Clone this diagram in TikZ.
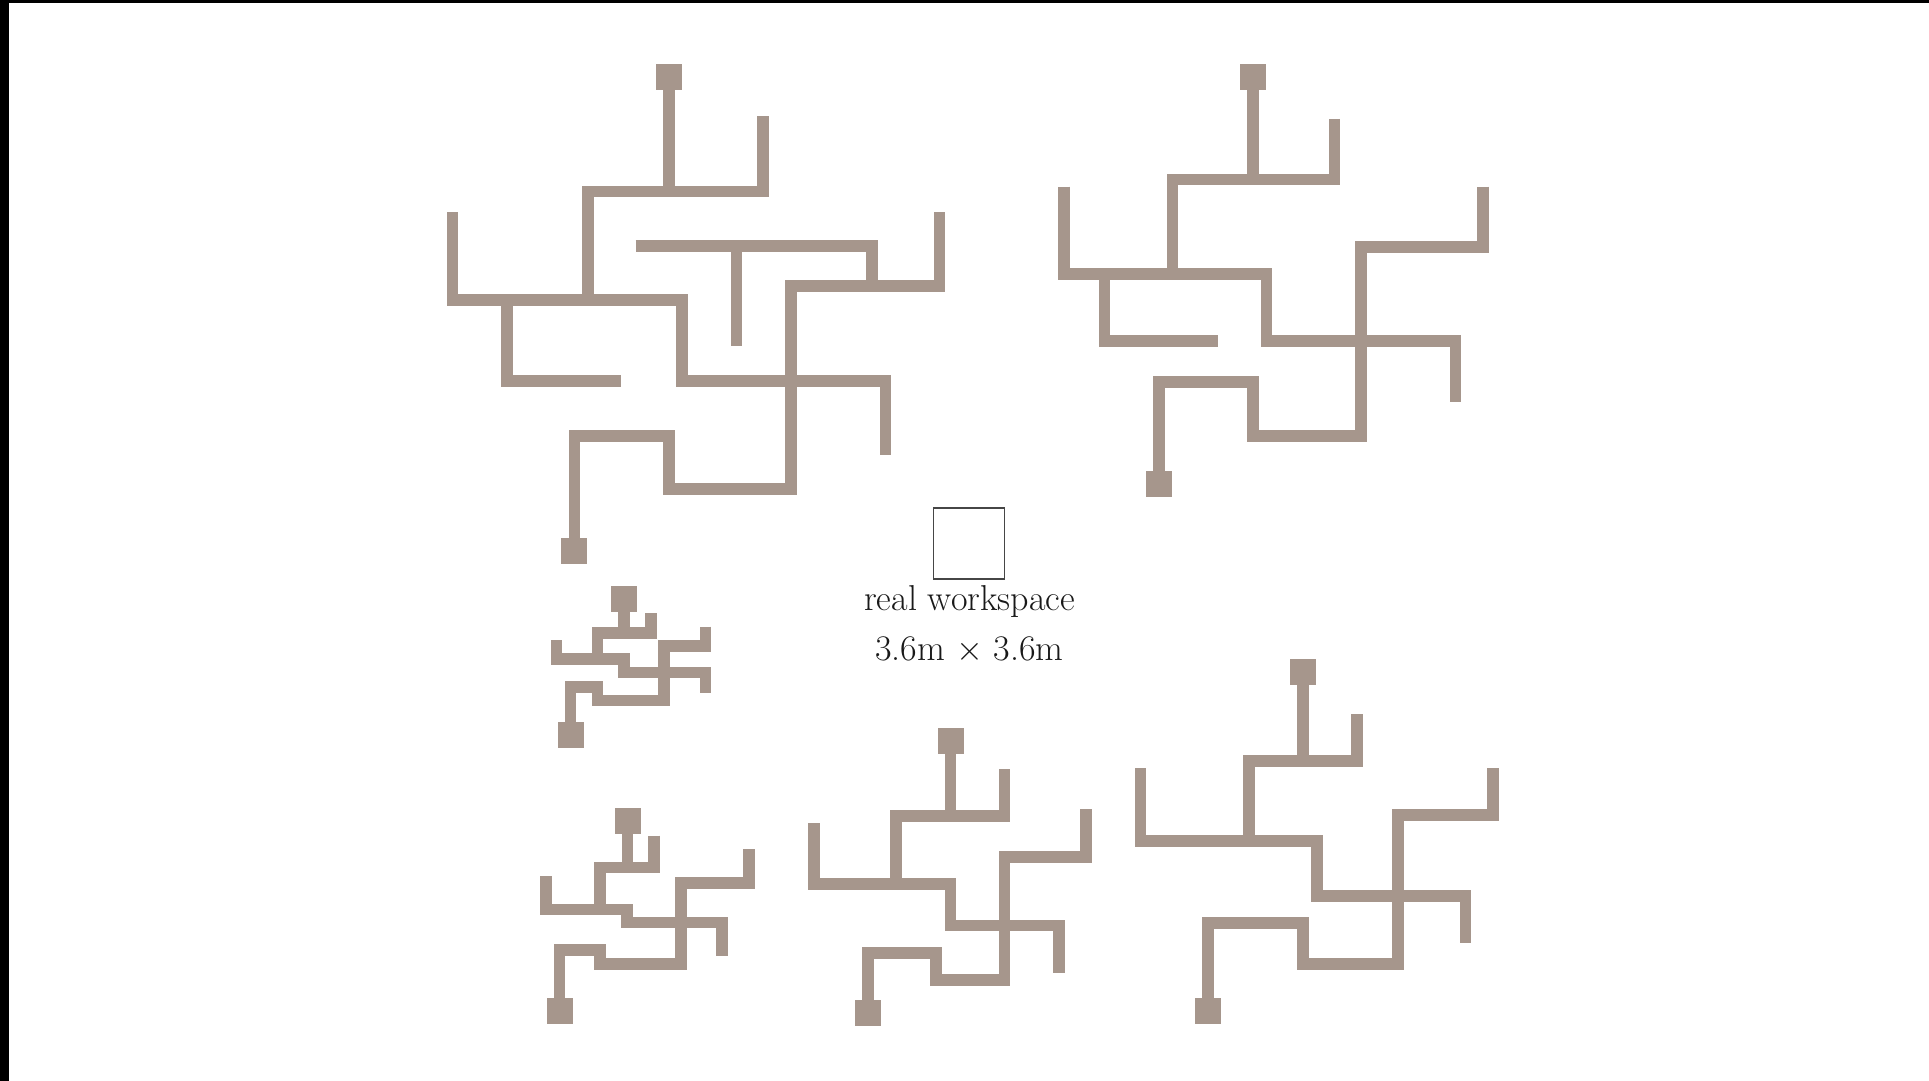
\documentclass[tikz,border=0pt]{standalone}
\definecolor{wirec}{RGB}{166,150,140}
\definecolor{boxc}{RGB}{70,70,70}
\tikzset{
  wire/.style={draw=wirec, line width=5.9pt, line join=miter, line cap=butt},
  pad/.style={fill=wirec, draw=none, minimum size=13pt, inner sep=0pt, outer sep=0pt},
  lbl/.style={anchor=base, inner sep=0pt, font=\fontsize{18}{22}\selectfont, text=black!90}
}
\begin{document}
\begin{tikzpicture}[x=0.5pt, y=-0.5pt]
\useasboundingbox (0,0) rectangle (1929,1081);
\fill[white] (0,0) rectangle (1929,1081);
\fill[black] (0,0) rectangle (9,1081);
\fill[black] (0,0) rectangle (1929,3);

% ---------- maze 1 (top left) ----------
\node[pad] (m1a) at (669.2,76.7) {};
\node[pad] (m1b) at (574.4,550.6) {};
\draw[wire] (m1a.center) -- (669.2,191.5);
\draw[wire] (763.2,116.5) -- (763.2,191.5) -- (587.6,191.5) -- (587.6,299.8);
\draw[wire] (452.4,212.2) -- (452.4,299.8) -- (682.3,299.8) -- (682.3,380.9) -- (885.5,380.9) -- (885.5,455);
\draw[wire] (506.6,299.8) -- (506.6,380.9) -- (621.1,380.9);
\draw[wire] (635.6,245.8) -- (871.7,245.8) -- (871.7,286.1);
\draw[wire] (736.5,245.8) -- (736.5,345.8);
\draw[wire] (939.5,212.2) -- (939.5,286.1) -- (790.7,286.1) -- (790.7,489.3) -- (669.2,489.3) -- (669.2,435.9) -- (574.4,435.9) -- (m1b.center);

% ---------- maze 2 (top right) ----------
\node[pad] (m2a) at (1253.3,77.3) {};
\node[pad] (m2b) at (1158.8,484) {};
\draw[wire] (m2a.center) -- (1253.3,179.5);
\draw[wire] (1334.5,119) -- (1334.5,179.5) -- (1172.5,179.5) -- (1172.5,274.2);
\draw[wire] (1063.8,186.7) -- (1063.8,274.2) -- (1266.5,274.2) -- (1266.5,341.2) -- (1455.5,341.2) -- (1455.5,401.7);
\draw[wire] (1104.5,274.2) -- (1104.5,341.2) -- (1218.3,341.2);
\draw[wire] (1482.8,186.7) -- (1482.8,247.2) -- (1361.2,247.2) -- (1361.2,436.2) -- (1253.3,436.2) -- (1253.3,382.2) -- (1158.8,382.2) -- (m2b.center);

% ---------- maze 3 (small, middle left) ----------
\node[pad] (m3a) at (624.2,598.5) {};
\node[pad] (m3b) at (570.5,734.5) {};
\draw[wire] (m3a.center) -- (624.2,632.8);
\draw[wire] (650.8,613.3) -- (650.8,632.8) -- (597.5,632.8) -- (597.5,659.2);
\draw[wire] (556.5,640) -- (556.5,659.2) -- (624.2,659.2) -- (624.2,672.5) -- (705.5,672.5) -- (705.5,692.7);
\draw[wire] (705.5,626.7) -- (705.5,645.8) -- (664.2,645.8) -- (664.2,700.5) -- (597.5,700.5) -- (597.5,686.8) -- (570.5,686.8) -- (m3b.center);

% ---------- maze 4 (small, bottom left) ----------
\node[pad] (m4a) at (627.5,821.3) {};
\node[pad] (m4b) at (559.5,1011.2) {};
\draw[wire] (m4a.center) -- (627.5,867.5);
\draw[wire] (654.2,835.7) -- (654.2,867.5) -- (600,867.5) -- (600,909.5);
\draw[wire] (546.2,876) -- (546.2,909.5) -- (627.2,909.5) -- (627.2,922.5) -- (722.2,922.5) -- (722.2,956);
\draw[wire] (748.8,849.3) -- (748.8,882.8) -- (681.2,882.8) -- (681.2,963.7) -- (600.3,963.7) -- (600.3,950) -- (559.5,950) -- (m4b.center);

% ---------- maze 5 (bottom middle) ----------
\node[pad] (m5a) at (950.5,740.8) {};
\node[pad] (m5b) at (868.3,1013.3) {};
\draw[wire] (m5a.center) -- (950.5,815.8);
\draw[wire] (1004.5,769) -- (1004.5,815.8) -- (896.2,815.8) -- (896.2,883.7);
\draw[wire] (814,823.3) -- (814,883.7) -- (950.5,883.7) -- (950.5,925.5) -- (1058.8,925.5) -- (1058.8,973.3);
\draw[wire] (1086,809.3) -- (1086,857) -- (1004.5,857) -- (1004.5,979.7) -- (936.2,979.7) -- (936.2,952.8) -- (868.3,952.8) -- (m5b.center);

% ---------- maze 6 (bottom right) ----------
\node[pad] (m6a) at (1303.3,672.2) {};
\node[pad] (m6b) at (1208.3,1011.2) {};
\draw[wire] (m6a.center) -- (1303.3,761.2);
\draw[wire] (1357,714) -- (1357,761.2) -- (1248.8,761.2) -- (1248.8,841.2);
\draw[wire] (1140.5,768.3) -- (1140.5,841.2) -- (1316.7,841.2) -- (1316.7,896.3) -- (1465.5,896.3) -- (1465.5,943.3);
\draw[wire] (1492.8,768.3) -- (1492.8,815) -- (1397.8,815) -- (1397.8,963.7) -- (1303,963.7) -- (1303,923.3) -- (1208.3,923.3) -- (m6b.center);

% ---------- real workspace ----------
\node[draw=boxc, line width=0.8pt, minimum size=35.5pt, inner sep=0pt] (ws) at (968.8,543.3) {};
\node[lbl] (wst) at (969.5,610) {real workspace};
\node[lbl] (wsd) at (969.5,660) {3.6m $\times$ 3.6m};
\end{tikzpicture}
\end{document}
